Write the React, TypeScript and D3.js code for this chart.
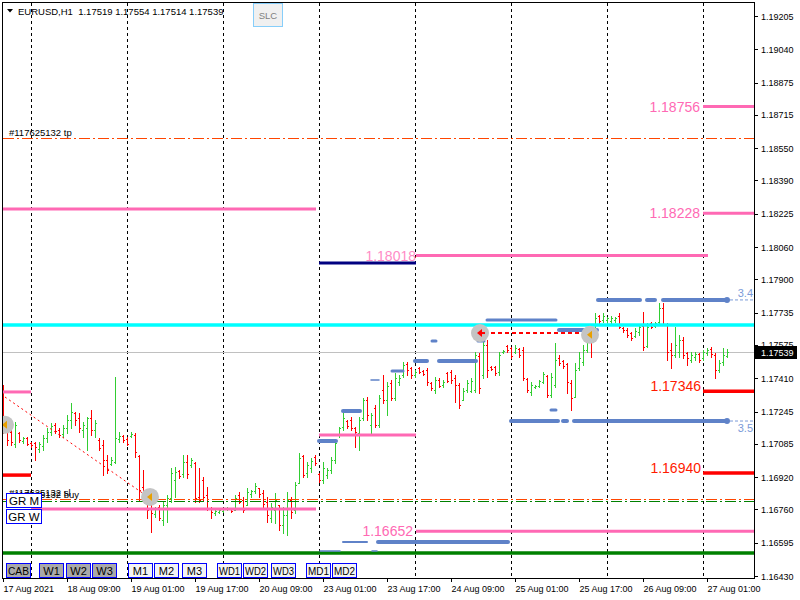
import React from 'react';
import * as d3 from 'd3';

// ---------- DATA ----------
// Hourly EURUSD bars: [open, high, low, close]
const bars: [number, number, number, number][] = [
  [1.17352,1.17377,1.17139,1.17179],[1.17169,1.17179,1.17080,1.17104],[1.17144,1.17154,1.17080,1.17094],[1.17084,1.17193,1.17070,1.17179],
  [1.17139,1.17144,1.17094,1.17104],[1.17099,1.17119,1.17089,1.17114],[1.17114,1.17119,1.17080,1.17084],[1.17089,1.17094,1.17070,1.17080],
  [1.17089,1.17094,1.17005,1.17070],[1.17060,1.17094,1.17045,1.17084],[1.17075,1.17129,1.17055,1.17114],[1.17114,1.17164,1.17094,1.17144],
  [1.17144,1.17189,1.17129,1.17174],[1.17179,1.17189,1.17139,1.17149],[1.17154,1.17164,1.17119,1.17129],[1.17134,1.17179,1.17119,1.17164],
  [1.17164,1.17228,1.17139,1.17203],[1.17203,1.17288,1.17164,1.17243],[1.17238,1.17243,1.17179,1.17203],[1.17213,1.17238,1.17144,1.17164],
  [1.17154,1.17193,1.17119,1.17179],[1.17164,1.17218,1.17055,1.17213],[1.17213,1.17253,1.17129,1.17154],[1.17154,1.17203,1.17119,1.17189],
  [1.17104,1.17114,1.17055,1.17065],[1.17080,1.17104,1.16931,1.17005],[1.17005,1.17030,1.16941,1.16956],[1.16985,1.17020,1.16980,1.17005],
  [1.16995,1.17416,1.16990,1.17114],[1.17109,1.17144,1.17094,1.17124],[1.17124,1.17129,1.17094,1.17104],[1.17109,1.17119,1.17080,1.17084],
  [1.17124,1.17144,1.17119,1.17134],[1.17129,1.17139,1.17020,1.17045],[1.17025,1.17030,1.16807,1.16857],[1.16871,1.16956,1.16822,1.16832],
  [1.16847,1.16857,1.16718,1.16757],[1.16767,1.16782,1.16648,1.16743],[1.16738,1.16772,1.16723,1.16762],[1.16772,1.16782,1.16708,1.16718],
  [1.16708,1.16797,1.16683,1.16782],[1.16782,1.16832,1.16698,1.16817],[1.16817,1.16966,1.16797,1.16941],[1.16906,1.16971,1.16822,1.16946],
  [1.16951,1.16956,1.16916,1.16926],[1.16936,1.17030,1.16921,1.16995],[1.16995,1.17030,1.16916,1.16936],[1.16980,1.17015,1.16971,1.17005],
  [1.16990,1.16995,1.16797,1.16817],[1.16822,1.16966,1.16797,1.16807],[1.16906,1.16921,1.16807,1.16822],[1.16832,1.16871,1.16757,1.16767],
  [1.16767,1.16772,1.16718,1.16748],[1.16743,1.16757,1.16733,1.16752],[1.16748,1.16767,1.16743,1.16757],[1.16752,1.16767,1.16748,1.16762],
  [1.16762,1.16772,1.16757,1.16767],[1.16767,1.16767,1.16748,1.16752],[1.16757,1.16832,1.16757,1.16817],[1.16832,1.16847,1.16792,1.16797],
  [1.16807,1.16822,1.16748,1.16757],[1.16782,1.16866,1.16782,1.16847],[1.16837,1.16857,1.16822,1.16852],[1.16852,1.16891,1.16842,1.16876],
  [1.16866,1.16866,1.16822,1.16837],[1.16842,1.16857,1.16772,1.16787],[1.16797,1.16822,1.16698,1.16733],[1.16718,1.16792,1.16698,1.16772],
  [1.16757,1.16842,1.16693,1.16807],[1.16782,1.16782,1.16658,1.16683],[1.16683,1.16772,1.16643,1.16733],[1.16733,1.16847,1.16633,1.16807],
  [1.16807,1.16822,1.16718,1.16748],[1.16757,1.16896,1.16743,1.16881],[1.16891,1.17040,1.16891,1.17015],[1.17025,1.17030,1.16921,1.16931],
  [1.16941,1.16995,1.16921,1.16980],[1.16966,1.17015,1.16946,1.17000],[1.17020,1.17030,1.16980,1.16990],[1.16936,1.16941,1.16896,1.16906],
  [1.16906,1.16995,1.16891,1.16966],[1.16931,1.16966,1.16916,1.16956],[1.16956,1.17020,1.16941,1.17005],[1.17005,1.17104,1.16990,1.17089],
  [1.17129,1.17169,1.17119,1.17164],[1.17169,1.17238,1.17154,1.17213],[1.17198,1.17203,1.17164,1.17174],[1.17203,1.17218,1.17154,1.17164],
  [1.17164,1.17169,1.17070,1.17144],[1.17139,1.17218,1.17055,1.17203],[1.17213,1.17312,1.17203,1.17303],[1.17303,1.17317,1.17203,1.17228],
  [1.17179,1.17238,1.17139,1.17228],[1.17263,1.17278,1.17169,1.17179],[1.17179,1.17327,1.17169,1.17312],[1.17352,1.17426,1.17288,1.17303],
  [1.17303,1.17392,1.17228,1.17372],[1.17387,1.17402,1.17303,1.17312],[1.17312,1.17436,1.17303,1.17412],[1.17392,1.17426,1.17377,1.17412],
  [1.17426,1.17491,1.17416,1.17476],[1.17481,1.17491,1.17426,1.17451],[1.17461,1.17466,1.17412,1.17426],[1.17426,1.17451,1.17416,1.17441],
  [1.17461,1.17466,1.17436,1.17441],[1.17446,1.17451,1.17426,1.17431],[1.17451,1.17461,1.17377,1.17392],[1.17387,1.17392,1.17352,1.17362],
  [1.17352,1.17416,1.17337,1.17402],[1.17402,1.17412,1.17367,1.17372],[1.17377,1.17402,1.17367,1.17392],[1.17436,1.17441,1.17392,1.17397],
  [1.17441,1.17451,1.17387,1.17402],[1.17412,1.17426,1.17293,1.17377],[1.17377,1.17387,1.17263,1.17278],[1.17303,1.17362,1.17303,1.17347],
  [1.17352,1.17402,1.17342,1.17387],[1.17347,1.17412,1.17342,1.17397],[1.17352,1.17540,1.17342,1.17525],[1.17520,1.17535,1.17337,1.17362],
  [1.17426,1.17639,1.17412,1.17575],[1.17575,1.17600,1.17416,1.17451],[1.17466,1.17471,1.17451,1.17456],[1.17466,1.17471,1.17426,1.17436],
  [1.17441,1.17540,1.17426,1.17525],[1.17540,1.17550,1.17535,1.17545],[1.17570,1.17575,1.17540,1.17550],[1.17560,1.17565,1.17511,1.17520],
  [1.17540,1.17575,1.17535,1.17560],[1.17555,1.17560,1.17516,1.17525],[1.17550,1.17565,1.17402,1.17412],[1.17407,1.17412,1.17342,1.17352],
  [1.17342,1.17392,1.17327,1.17377],[1.17367,1.17377,1.17362,1.17372],[1.17372,1.17402,1.17367,1.17397],[1.17392,1.17441,1.17387,1.17431],
  [1.17421,1.17426,1.17317,1.17327],[1.17327,1.17436,1.17317,1.17416],[1.17377,1.17585,1.17367,1.17501],[1.17511,1.17525,1.17476,1.17486],
  [1.17496,1.17501,1.17461,1.17471],[1.17481,1.17486,1.17337,1.17392],[1.17387,1.17402,1.17253,1.17312],[1.17317,1.17486,1.17317,1.17451],
  [1.17461,1.17540,1.17451,1.17511],[1.17491,1.17575,1.17476,1.17550],[1.17550,1.17634,1.17540,1.17610],[1.17639,1.17649,1.17516,1.17600],
  [1.17625,1.17734,1.17620,1.17709],[1.17719,1.17724,1.17684,1.17694],[1.17699,1.17734,1.17689,1.17719],[1.17699,1.17714,1.17684,1.17709],
  [1.17694,1.17719,1.17684,1.17709],[1.17699,1.17714,1.17689,1.17709],[1.17719,1.17734,1.17659,1.17664],[1.17659,1.17664,1.17639,1.17649],
  [1.17649,1.17659,1.17615,1.17625],[1.17634,1.17639,1.17600,1.17610],[1.17620,1.17659,1.17615,1.17644],[1.17639,1.17674,1.17625,1.17664],
  [1.17669,1.17739,1.17550,1.17565],[1.17570,1.17684,1.17565,1.17664],[1.17684,1.17689,1.17659,1.17664],[1.17669,1.17689,1.17664,1.17684],
  [1.17689,1.17783,1.17684,1.17758],[1.17758,1.17783,1.17674,1.17679],[1.17679,1.17684,1.17501,1.17540],[1.17550,1.17585,1.17461,1.17525],
  [1.17525,1.17664,1.17516,1.17575],[1.17540,1.17625,1.17516,1.17600],[1.17600,1.17615,1.17511,1.17525],[1.17535,1.17540,1.17476,1.17511],
  [1.17501,1.17540,1.17491,1.17525],[1.17516,1.17540,1.17501,1.17530],[1.17530,1.17535,1.17491,1.17501],[1.17511,1.17550,1.17501,1.17540],
  [1.17535,1.17560,1.17525,1.17550],[1.17555,1.17565,1.17516,1.17530],[1.17525,1.17535,1.17412,1.17451],[1.17451,1.17501,1.17441,1.17486],
  [1.17491,1.17560,1.17476,1.17525],[1.17519,1.17554,1.17514,1.17539],
];

const symbol = 'EURUSD,H1';
const currentPrice = 1.17539;

const priceTicks = [1.19205,1.19040,1.18875,1.18715,1.18550,1.18390,1.18225,1.18060,1.17900,1.17735,1.17575,1.17410,1.17245,1.17085,1.16920,1.16760,1.16595,1.16430];

const dateTickLabels = ['17 Aug 2021','18 Aug 09:00','19 Aug 01:00','19 Aug 17:00','20 Aug 09:00','23 Aug 01:00','23 Aug 17:00','24 Aug 09:00','25 Aug 01:00','25 Aug 17:00','26 Aug 09:00','27 Aug 01:00'];

// horizontal level objects: [fromBar, toBar (null = right edge), price, label]
const pinkLevels: [number, number | null, number, string][] = [
  [0, 78.25, 1.18249, ''],
  [175, null, 1.18756, '1.18756'],
  [175, null, 1.18228, '1.18228'],
  [103.25, 176.25, 1.18018, '1.18018'],
  [79, 103.25, 1.17129, ''],
  [0, 7, 1.17342, ''],
  [7, 78.25, 1.16762, ''],
  [103.25, null, 1.16652, '1.16652'],
];
const navyLevels: [number, number, number][] = [[79, 103.25, 1.17981]];
const redLevels: [number, number | null, number, string][] = [
  [175, null, 1.17346, '1.17346'],
  [175, null, 1.16940, '1.16940'],
  [0, 7, 1.16930, ''],
];
const cyanLevel = 1.17674;
const greenLevel = 1.16544;

// order lines
const orderId = '#117625132';
const tpPrice = 1.18600;
const slPrice = 1.16812;
const buyPrice = 1.16802;

// blue indicator segments: [fromBar, toBar, price, width]
const blueSegments: [number, number, number, number][] = [
  [148.75,159.25,1.17798,4],[161,163,1.17798,4],[165,181,1.17798,4],
  [127,138.75,1.17198,4],[140,141,1.17198,4],[142.75,181,1.17198,4],
  [103,106,1.17495,4],[109,118.25,1.17495,4],
  [121,138.25,1.17698,3],[139,148.5,1.17649,4],
  [107.25,108.25,1.17594,3],[118.75,120.25,1.17594,3],
  [137,138.25,1.17253,3],[85,89.25,1.17248,4],[79,83.25,1.17099,4],
  [92,94,1.17401,1.5],[97.25,100,1.17446,3],
  [85,91,1.16598,2],[93.75,126.25,1.16598,4],
  [79.25,84.25,1.16554,1.5],[92.25,93.5,1.16554,1.5],
];
// blue end-points with value labels: [bar, price, label]
const blueMarkers: [number, number, string][] = [
  [181, 1.17798, '3.4'],
  [181, 1.17198, '3.5'],
];

// trade markers: [bar, price, arrowColor]
const tradeMarks: [number, number, string][] = [
  [0.5, 1.17179, '#e8a000'],
  [36.75, 1.16822, '#e8a000'],
  [119.25, 1.17634, '#ff0000'],
  [146.75, 1.17625, '#e8a000'],
];
// trade connecting lines: [bar1, price1, bar2, price2, width]
const tradeLines: [number, number, number, number, number][] = [
  [0.5, 1.17317, 36.25, 1.16822, 1],
  [120.25, 1.17634, 146.25, 1.17634, 2],
];

const buttonsBottom = ['CAB','W1','W2','W3','M1','M2','M3','WD1','WD2','WD3','MD1','MD2'];
const buttonsActive = [true, true, true, true, false, false, false, false, false, false, false, false];
const buttonsLeft = ['GR M', 'GR W'];

// ---------- CHART ----------
const FONT = "'Liberation Sans', Arial, sans-serif";

export default function App() {
  const L = 3, R = 754, T = 3, B = 578;
  const x = d3.scaleLinear().domain([0, bars.length - 1]).range([3, 3 + 4 * (bars.length - 1)]);
  const y = d3.scaleLinear().domain([1.16430, 1.19205]).range([576, 16]);
  const xEndBar = x.invert(R);
  const xb = (i: number | null) => (i === null ? R : x(i));
  const yc = (p: number) => Math.round(y(p)) + 0.5;

  // bar times (hourly, skipping weekends)
  const times: Date[] = [];
  let t = Date.UTC(2021, 7, 17, 17);
  while (times.length < bars.length) {
    const d = new Date(t);
    const wd = d.getUTCDay();
    if (wd !== 0 && wd !== 6) times.push(d);
    t += 3600000;
  }
  const fmt = d3.utcFormat('%d %b %H:%M');
  const fmtFirst = d3.utcFormat('%d %b %Y');
  const tickIdx = dateTickLabels.map((lab) =>
    times.findIndex((d, i) => (i === 0 ? fmtFirst(d) : fmt(d)) === lab)
  );
  const separators = times.map((d, i) => (d.getUTCHours() === 0 ? i : -1)).filter((i) => i >= 0);

  const dashDot = '11,3,2,3';
  const btnX = [6, 39, 66, 92, 128, 154, 182, 217, 243, 271, 306, 332];

  return (
    <svg width={800} height={600} style={{ position: 'fixed', left: 0, top: 0, background: '#fff' }} fontFamily={FONT}>
      <defs>
        <clipPath id="plot">
          <rect x={L} y={T} width={R - L} height={B - T} />
        </clipPath>
      </defs>
      <rect x={0} y={0} width={800} height={600} fill="#ffffff" />

      <g clipPath="url(#plot)">
        {/* day separators */}
        {separators.map((i) => (
          <line key={'s' + i} x1={Math.round(x(i)) + 0.5} x2={Math.round(x(i)) + 0.5} y1={T} y2={B}
            stroke="#000" strokeWidth={1} strokeDasharray="3,3" />
        ))}

        {/* current price line */}
        <line x1={L} x2={R} y1={yc(currentPrice)} y2={yc(currentPrice)} stroke="#c0c0c0" strokeWidth={1} />

        {/* OHLC bars */}
        <g shapeRendering="crispEdges">
          {bars.map(([o, h, l, c], i) => {
            const px = Math.round(x(i));
            const col = c >= o ? '#32cd32' : '#ff0000';
            const yh = Math.round(y(h)), yl = Math.round(y(l));
            return (
              <g key={'b' + i} fill={col}>
                <rect x={px} y={yh} width={1} height={Math.max(1, yl - yh + 1)} />
                <rect x={px - 1} y={Math.round(y(o))} width={1} height={1} />
                <rect x={px + 1} y={Math.round(y(c))} width={1} height={1} />
              </g>
            );
          })}
        </g>

        {/* order lines */}
        <line x1={L} x2={R} y1={yc(tpPrice)} y2={yc(tpPrice)} stroke="#ff4500" strokeWidth={1} strokeDasharray={dashDot} />
        <line x1={L} x2={R} y1={yc(slPrice)} y2={yc(slPrice)} stroke="#ff4500" strokeWidth={1} strokeDasharray={dashDot} />
        <line x1={L} x2={R} y1={yc(buyPrice)} y2={yc(buyPrice)} stroke="#008000" strokeWidth={1} strokeDasharray={dashDot} />

        {/* full width levels */}
        <line x1={L} x2={R} y1={y(cyanLevel)} y2={y(cyanLevel)} stroke="#00ffff" strokeWidth={3.5} />
        <line x1={L} x2={R} y1={y(greenLevel)} y2={y(greenLevel)} stroke="#008000" strokeWidth={3.5} />

        {/* pink levels */}
        {pinkLevels.map(([a, b, p, lab], k) => (
          <g key={'p' + k}>
            <line x1={x(a)} x2={xb(b)} y1={y(p)} y2={y(p)} stroke="#ff69b4" strokeWidth={3} />
            {lab && (
              <text x={x(a) - (b === null ? 3 : 0)} y={y(p) + 5} textAnchor="end" fontSize={14}
                fill={b === null ? '#ff69b4' : '#ff8cc6'}>{lab}</text>
            )}
          </g>
        ))}
        {navyLevels.map(([a, b, p], k) => (
          <line key={'n' + k} x1={x(a)} x2={x(b)} y1={y(p)} y2={y(p)} stroke="#000080" strokeWidth={3} />
        ))}
        {redLevels.map(([a, b, p, lab], k) => (
          <g key={'r' + k}>
            <line x1={x(a)} x2={xb(b)} y1={y(p)} y2={y(p)} stroke="#ff0000" strokeWidth={3.5} />
            {lab && (
              <text x={x(a) - 2} y={y(p) - 0.5} textAnchor="end" fontSize={14} fill="#ff1a00">{lab}</text>
            )}
          </g>
        ))}

        {/* blue segments */}
        {blueSegments.map(([a, b, p, w], k) => (
          <line key={'bl' + k} x1={x(a)} x2={x(b)} y1={y(p)} y2={y(p)} stroke="#5f82c8" strokeWidth={w} strokeLinecap="round" />
        ))}
        {blueMarkers.map(([a, p, lab], k) => (
          <g key={'bm' + k}>
            <line x1={x(a) + 3} x2={x(xEndBar)} y1={y(p)} y2={y(p)} stroke="#7a9ad8" strokeWidth={1} strokeDasharray="3,2" />
            <circle cx={x(a)} cy={y(p)} r={3} fill="#5f82c8" />
            <text x={R - 1} y={k === 0 ? y(p) - 3 : y(p) + 11} textAnchor="end" fontSize={11} fill="#7a9ad8">{lab}</text>
          </g>
        ))}

        {/* trade lines and markers */}
        {tradeLines.map(([a, p1, b, p2, w], k) => (
          <line key={'tl' + k} x1={x(a)} x2={x(b)} y1={y(p1)} y2={y(p2)} stroke="#ff0000" strokeWidth={w}
            strokeDasharray={w > 1 ? '4,3' : '2,3'} />
        ))}
        {tradeMarks.map(([a, p, col], k) => {
          const cx = x(a), cy = y(p);
          return (
            <g key={'tm' + k}>
              <circle cx={cx} cy={cy} r={9} fill="#c4c4c4" />
              <polygon points={`${cx - 3},${cy} ${cx + 2},${cy - 4} ${cx + 2},${cy + 4}`} fill={col} />
              {col === '#ff0000' && <rect x={cx + 1} y={cy - 1} width={4} height={2} fill={col} />}
            </g>
          );
        })}

        {/* order labels */}
        <text x={9} y={136} fontSize={9.5} fill="#000">{orderId} tp</text>
        <text x={9} y={496} fontSize={9.5} fill="#000">{orderId} sl</text>
        <text x={9} y={497.5} fontSize={9.5} fill="#000">{orderId} buy</text>
      </g>

      {/* frame */}
      <rect x={2.5} y={2.5} width={R - 2} height={B - 2} fill="none" stroke="#000" strokeWidth={1} />

      {/* right price axis */}
      {priceTicks.map((p) => (
        <g key={'pt' + p}>
          <line x1={R} x2={R + 4} y1={yc(p)} y2={yc(p)} stroke="#000" />
          <text x={761} y={y(p) + 3.5} fontSize={9} fill="#000">{p.toFixed(5)}</text>
        </g>
      ))}
      <rect x={755} y={Math.round(y(currentPrice)) - 6} width={42} height={13} fill="#000" />
      <text x={761} y={y(currentPrice) + 3.5} fontSize={9} fill="#fff">{currentPrice.toFixed(5)}</text>

      {/* bottom time axis */}
      {tickIdx.map((i, k) => (
        <g key={'dt' + k}>
          <line x1={Math.round(x(i)) + 0.5} x2={Math.round(x(i)) + 0.5} y1={B} y2={B + 4} stroke="#000" />
          <text x={x(i) + 0.5} y={592} fontSize={9} fill="#000">{dateTickLabels[k]}</text>
        </g>
      ))}

      {/* header */}
      <polygon points="7,9 13,9 10,12.5" fill="#000" />
      <text x={18} y={15} fontSize={9.5} fill="#000" style={{ whiteSpace: 'pre' }}>
        {`${symbol}  ${bars[bars.length - 1].map((v) => v.toFixed(5)).join(' ')}`}
      </text>

      {/* SLC button */}
      <rect x={253.5} y={3.5} width={29} height={23} fill="#f0f0f0" stroke="#87cefa" />
      <text x={268} y={18.5} textAnchor="middle" fontSize={9.5} fill="#808080">SLC</text>

      {/* left buttons */}
      {buttonsLeft.map((b, k) => (
        <g key={'gl' + k}>
          <rect x={6.5} y={493.5 + k * 16} width={35} height={14} fill="#ffffff" stroke="#0000ff" />
          <text x={24} y={505 + k * 16} textAnchor="middle" fontSize={11.5} fill="#000">{b}</text>
        </g>
      ))}

      {/* bottom buttons */}
      {buttonsBottom.map((b, k) => (
        <g key={'bb' + k}>
          <rect x={btnX[k] + 0.5} y={563.5} width={b.length > 2 ? 24 : 24} height={14}
            fill={buttonsActive[k] ? '#a9a9a9' : '#f4f4f4'} stroke="#0000ff" />
          <text x={btnX[k] + 12.5} y={575} textAnchor="middle" fontSize={11} fill="#000"
            textLength={b.length > 2 ? 21 : undefined} lengthAdjust="spacingAndGlyphs">{b}</text>
        </g>
      ))}
    </svg>
  );
}
